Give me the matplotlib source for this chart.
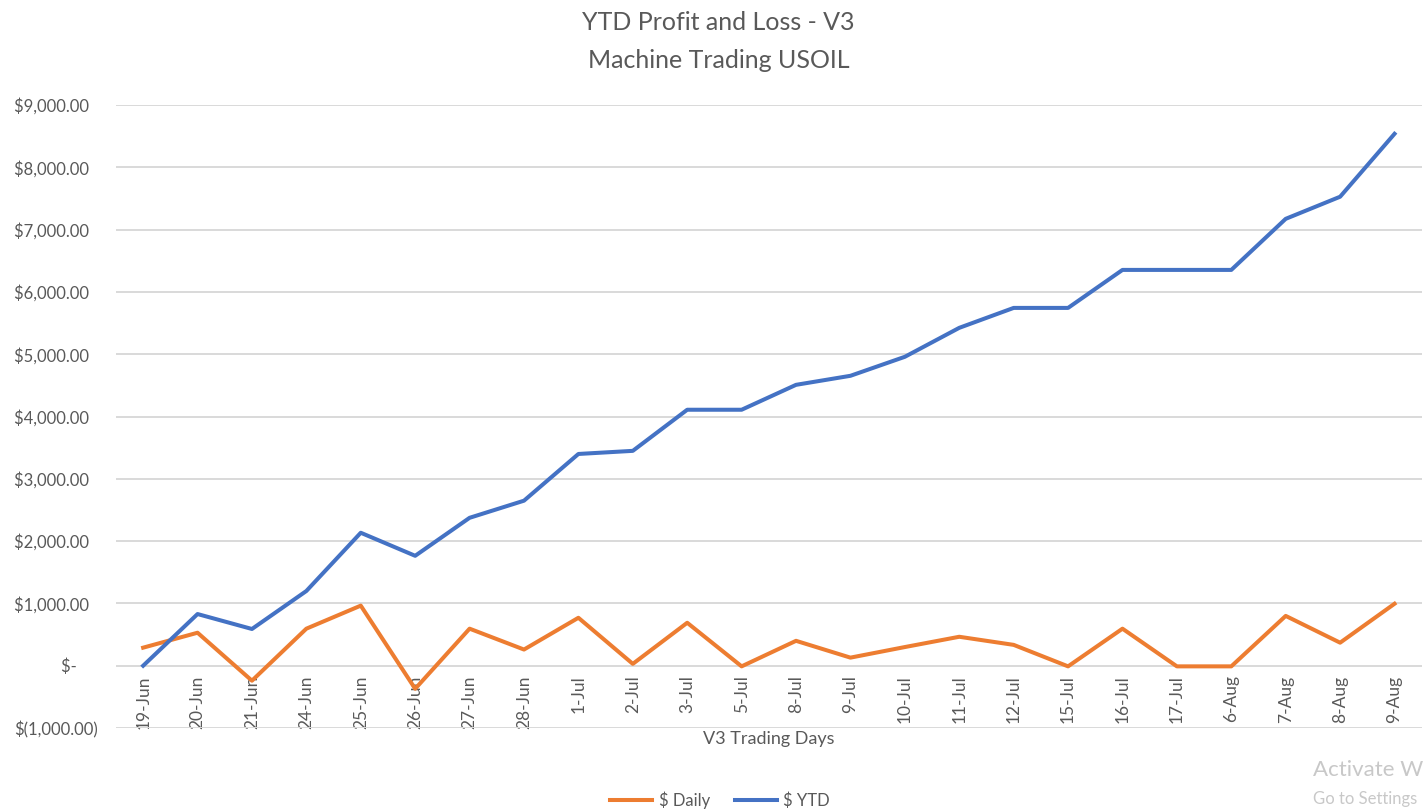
import matplotlib
matplotlib.use("Agg")
import matplotlib.pyplot as plt
from matplotlib.ticker import FixedLocator

# trading days on the category axis
days = ["19-Jun", "20-Jun", "21-Jun", "24-Jun", "25-Jun", "26-Jun", "27-Jun", "28-Jun",
        "1-Jul", "2-Jul", "3-Jul", "5-Jul", "8-Jul", "9-Jul", "10-Jul", "11-Jul",
        "12-Jul", "15-Jul", "16-Jul", "17-Jul", "6-Aug", "7-Aug", "8-Aug", "9-Aug"]

daily = [290, 530, -240, 595, 965, -370, 595, 260, 770, 30, 690, -10,
         400, 130, 300, 465, 335, -10, 595, -10, -10, 800, 370, 995]

ytd = [0, 830, 590, 1200, 2135, 1765, 2375, 2650, 3400, 3450, 4110, 4110,
       4510, 4655, 4960, 5425, 5745, 5745, 6355, 6355, 6355, 7175, 7530, 8540]

y_ticks = [-1000, 0, 1000, 2000, 3000, 4000, 5000, 6000, 7000, 8000, 9000]

ORANGE = "#ED7D31"
BLUE = "#4472C4"
GREY = "#595959"

plt.rcParams["font.family"] = ["Lato", "DejaVu Sans"]


def money(v):
    # Excel accounting style: pad so digits line up with the ")" of negatives
    if v == 0:
        return "$-     "
    if v < 0:
        return f"$({abs(v):,.2f})"
    return f"${v:,.2f}  "


fig = plt.figure(figsize=(14.26, 8.09), dpi=100)
ax = fig.add_axes([0.0813, 0.1001, 0.9157, 0.7699])

xs = list(range(len(days)))
ax.plot(xs, daily, color=ORANGE, lw=2.9, label="$ Daily", solid_joinstyle="round")
ax.plot(xs, ytd, color=BLUE, lw=2.9, label="$ YTD", solid_joinstyle="round")

ax.set_xlim(-0.5, len(days) - 0.5)
ax.set_ylim(-1000, 9000)
ax.yaxis.set_major_locator(FixedLocator(y_ticks))
ax.set_yticklabels([money(v) for v in y_ticks], color=GREY, fontsize=12)
ax.grid(axis="y", color="#D9D9D9", lw=1.4)
ax.set_axisbelow(True)

# category labels hang just under the zero line, as in Excel
ax.spines["bottom"].set_position(("data", 0))
for s in ["top", "right", "left", "bottom"]:
    ax.spines[s].set_visible(False)
ax.set_xticks(xs)
ax.set_xticklabels(days, rotation=90, color=GREY, fontsize=12.5)
ax.tick_params(axis="both", length=0)
ax.tick_params(axis="x", pad=7)
ax.tick_params(axis="y", pad=13)

fig.text(0.539, 0.097, "V3 Trading Days", ha="center", va="top", color=GREY, fontsize=13)
fig.text(0.504, 0.972, "YTD Profit and Loss - V3", ha="center", va="center",
         color=GREY, fontsize=18)
fig.text(0.504, 0.925, "Machine Trading USOIL", ha="center", va="center",
         color=GREY, fontsize=18)

leg = fig.legend(loc="center", bbox_to_anchor=(0.505, 0.011), ncol=2, frameon=False,
                 fontsize=12, handlelength=2.5, columnspacing=1.5, handletextpad=0.4)
for t in leg.get_texts():
    t.set_color(GREY)

# screenshot watermark in the corner (only the visible part)
fig.text(0.921, 0.048, "Activate W", color="#C8C8C8", fontsize=16, va="center")
fig.text(0.921, 0.012, "Go to Settings", color="#C8C8C8", fontsize=12, va="center")

fig.savefig("out.png", dpi=100)
